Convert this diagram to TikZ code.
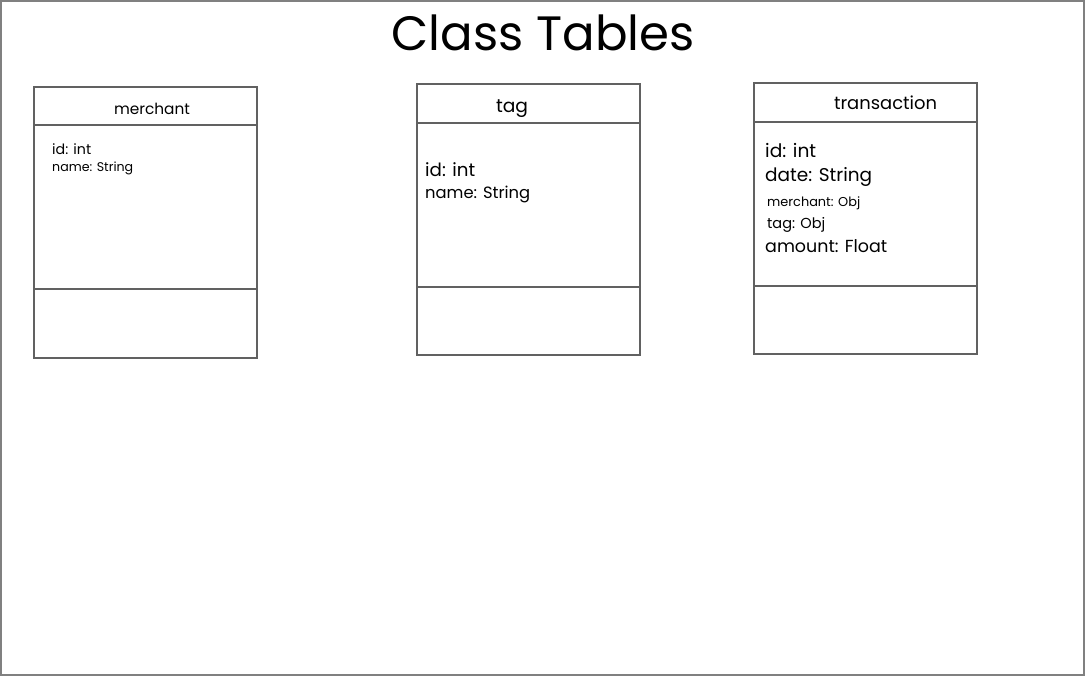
\documentclass[tikz,border=0pt]{standalone}
\usepackage{graphicx}
\usepackage{fontspec}
\setmainfont{Poppins}
\newcommand{\fw}[2]{\resizebox{#1pt}{!}{#2}}
\tikzset{
  frame/.style={draw=black!50, line width=1.2pt},
  part/.style={draw=black!62, line width=1.8pt, fill=white, rectangle, inner sep=0pt, anchor=north west, minimum width=223pt},
  lbl/.style={inner sep=0pt, text=black},
}
\begin{document}
\begin{tikzpicture}[x=1pt,y=-1pt]
\useasboundingbox (0,0) rectangle (1086,677);
\fill[white] (0,0) rectangle (1086,677);
\draw[frame] (1,1) rectangle (1084,675);
\node[lbl, anchor=center] (title) at (543,33) {\fw{303}{Class Tables}};
% merchant
\node[part, minimum height=38pt] (mhead) at (33,86) {};
\node[part, minimum height=164pt] (mbody) at (33,124) {};
\node[part, minimum height=69pt] (mfoot) at (33,288) {};
\node[lbl, anchor=base] (mname) at (152,114) {\fw{76}{merchant}};
\node[lbl, anchor=base west] (m1) at (52,154) {\fw{39}{id: int}};
\node[lbl, anchor=base west] (m2) at (52,171) {\fw{81}{name: String}};
% tag
\node[part, minimum height=39pt] (thead) at (416,83) {};
\node[part, minimum height=164pt] (tbody) at (416,122) {};
\node[part, minimum height=68pt] (tfoot) at (416,286) {};
\node[lbl, anchor=base] (tname) at (512,112) {\fw{32}{tag}};
\node[lbl, anchor=base west] (t1) at (425,176) {\fw{50}{id: int}};
\node[lbl, anchor=base west] (t2) at (425,198) {\fw{105}{name: String}};
% transaction
\node[part, minimum height=39pt] (xhead) at (753,82) {};
\node[part, minimum height=164pt] (xbody) at (753,121) {};
\node[part, minimum height=68pt] (xfoot) at (753,285) {};
\node[lbl, anchor=base] (xname) at (885.5,110) {\fw{103}{transaction}};
\node[lbl, anchor=base west] (x1) at (765,157) {\fw{51}{id: int}};
\node[lbl, anchor=base west] (x2) at (765,181) {\fw{107}{date: String}};
\node[lbl, anchor=base west] (x3) at (767,206) {\fw{93}{merchant: Obj}};
\node[lbl, anchor=base west] (x4) at (767,228) {\fw{58}{tag: Obj}};
\node[lbl, anchor=base west] (x5) at (765,252) {\fw{122}{amount: Float}};
\end{tikzpicture}
\end{document}
